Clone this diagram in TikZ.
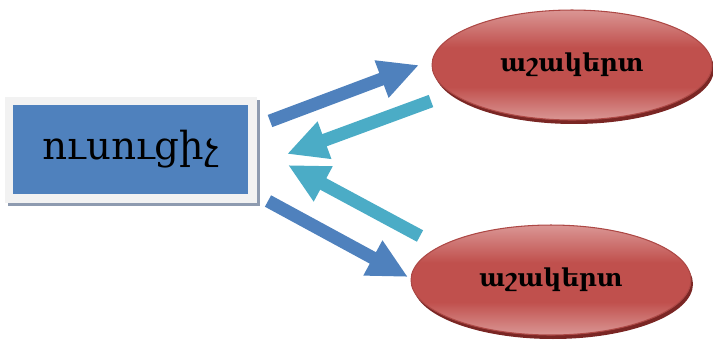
\documentclass[tikz,border=0pt]{standalone}
\usepackage{fontspec}
\setmainfont{DejaVu Serif}
\usepackage{tikz}
\usetikzlibrary{positioning,arrows.meta,shapes.geometric,shadows}
\definecolor{boxBlue}{HTML}{4F81BD}
\definecolor{flowTeal}{HTML}{4BACC6}
\definecolor{frameGrey}{HTML}{F2F2F2}
\definecolor{shadeGrey}{HTML}{8E9BB0}
\definecolor{pupilRed}{HTML}{C0504D}
\definecolor{pupilLight}{HTML}{DA9694}
\definecolor{pupilDark}{HTML}{7A2624}
\pgfdeclareverticalshading{pupilShade}{100bp}{color(0bp)=(pupilLight); color(25bp)=(pupilLight);
  color(40bp)=(pupilRed); color(58bp)=(pupilRed); color(75bp)=(pupilLight); color(100bp)=(pupilLight)}

\tikzset{
  pupil/.style={ellipse,draw=pupilRed!90!black,line width=0.6pt,
    minimum width=5.6cm,minimum height=2.2cm,inner sep=0pt,shading=pupilShade,
    drop shadow={shadow xshift=0.04cm,shadow yshift=-0.08cm,fill=pupilDark,opacity=1},
    font=\bfseries\fontsize{14}{17}\selectfont},
  bigArrow/.style={line width=0.26cm,-{Triangle[length=0.8cm,width=0.74cm]}}
}

\begin{document}
\begin{tikzpicture}[x=0.02cm,y=-0.02cm]
    \useasboundingbox (0,0) rectangle (713,343);
    % teacher box: grey frame with a blue face
    \node[fill=frameGrey,minimum width=5.04cm,minimum height=2.12cm,inner sep=0pt,
      drop shadow={shadow xshift=0.06cm,shadow yshift=-0.06cm,fill=shadeGrey,opacity=1}]
      (frame) at (131,150) {};
    \node[fill=boxBlue,minimum width=4.7cm,minimum height=1.78cm,inner sep=0pt,
      font=\fontsize{22}{26}\selectfont] (teacher) at (130.5,149) {ուսուցիչ};
    % the two pupils
    \node[pupil] (pupilA) at (572,65) {աշակերտ};
    \node[pupil] (pupilB) at (551,280) {աշակերտ};
    % arrow ends
    \coordinate (outA) at (270,121);
    \coordinate (inA) at (419,65);
    \coordinate (backA) at (431,101);
    \coordinate (retA) at (287,154);
    \coordinate (backB) at (420,236);
    \coordinate (retB) at (288,165);
    \coordinate (outB) at (268,201);
    \coordinate (inB) at (408,277);
    \draw[bigArrow,boxBlue] (outA) -- (inA);
    \draw[bigArrow,flowTeal] (backA) -- (retA);
    \draw[bigArrow,flowTeal] (backB) -- (retB);
    \draw[bigArrow,boxBlue] (outB) -- (inB);
  \end{tikzpicture}
\end{document}
